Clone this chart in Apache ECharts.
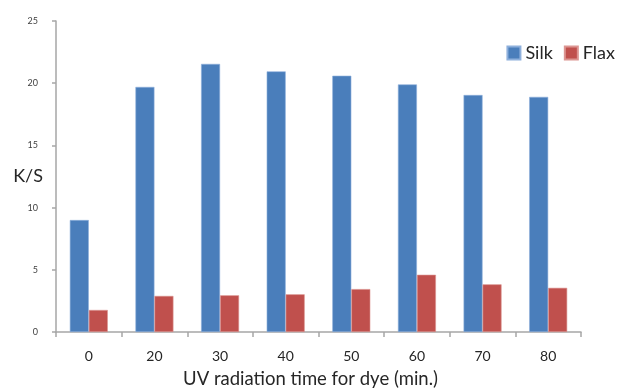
<!DOCTYPE html>
<html>
<head>
<meta charset="utf-8">
<script src="https://cdn.jsdelivr.net/npm/echarts@6/dist/echarts.min.js"></script>
<style>
  html, body { margin: 0; padding: 0; background: #fff; }
  #chart { width: 623px; height: 388px; }
</style>
</head>
<body>
<div id="chart"></div>
<script>
// data
var categories = ['0', '20', '30', '40', '50', '60', '70', '80'];
var silkValues = [9.0, 19.7, 21.55, 20.95, 20.6, 19.9, 19.05, 18.9];
var flaxValues = [1.77, 2.9, 2.95, 3.03, 3.45, 4.6, 3.83, 3.55];
var yTicks = [0, 5, 10, 15, 20, 25];

var chart = echarts.init(document.getElementById('chart'));
var fontName = 'Lato';

var option = {
    animation: false,
    textStyle: { fontFamily: fontName },
    legend: {
        data: ['Silk', 'Flax'],
        orient: 'horizontal',
        right: 3,
        top: 39,
        icon: 'rect',
        itemWidth: 13,
        itemHeight: 13,
        itemGap: 11,
        textStyle: { fontSize: 18, color: '#262626', fontFamily: fontName }
    },
    grid: {
        left: 56,
        right: 42,
        top: 21,
        bottom: 56,
        containLabel: false,
        outerBoundsMode: 'none'
    },
    xAxis: {
        type: 'category',
        data: categories,
        name: 'UV radiation time for dye (min.)',
        nameLocation: 'middle',
        nameGap: 38,
        nameMoveOverlap: false,
        nameTextStyle: { fontSize: 18.5, color: '#262626', padding: [0, 16, 0, 0] },
        axisLine: { lineStyle: { color: '#a6a6a6', width: 1.5 } },
        axisTick: { show: true, length: 5, lineStyle: { color: '#a6a6a6', width: 1.5 } },
        axisLabel: { fontSize: 14, color: '#262626', margin: 17 }
    },
    yAxis: {
        type: 'value',
        min: yTicks[0],
        max: yTicks[yTicks.length - 1],
        interval: 5,
        name: 'K/S',
        nameLocation: 'middle',
        nameRotate: 0,
        nameGap: 13,
        nameMoveOverlap: false,
        nameTextStyle: { fontSize: 18, color: '#262626' },
        axisLine: { show: true, lineStyle: { color: '#a6a6a6', width: 1.5 } },
        axisTick: { show: true, length: 4, lineStyle: { color: '#a6a6a6', width: 1.5 } },
        axisLabel: { fontSize: 9, color: '#404040', margin: 18 },
        splitLine: { show: false }
    },
    series: [
        {
            name: 'Silk',
            type: 'bar',
            data: silkValues,
            barWidth: 19,
            barGap: '0%',
            itemStyle: { color: '#4a7ebb', borderColor: '#8eb0dc', borderWidth: 0.6 }
        },
        {
            name: 'Flax',
            type: 'bar',
            data: flaxValues,
            barWidth: 19,
            barGap: '0%',
            itemStyle: { color: '#c0504d', borderColor: '#dc9592', borderWidth: 0.6 }
        }
    ]
};

chart.setOption(option);
</script>
</body>
</html>
